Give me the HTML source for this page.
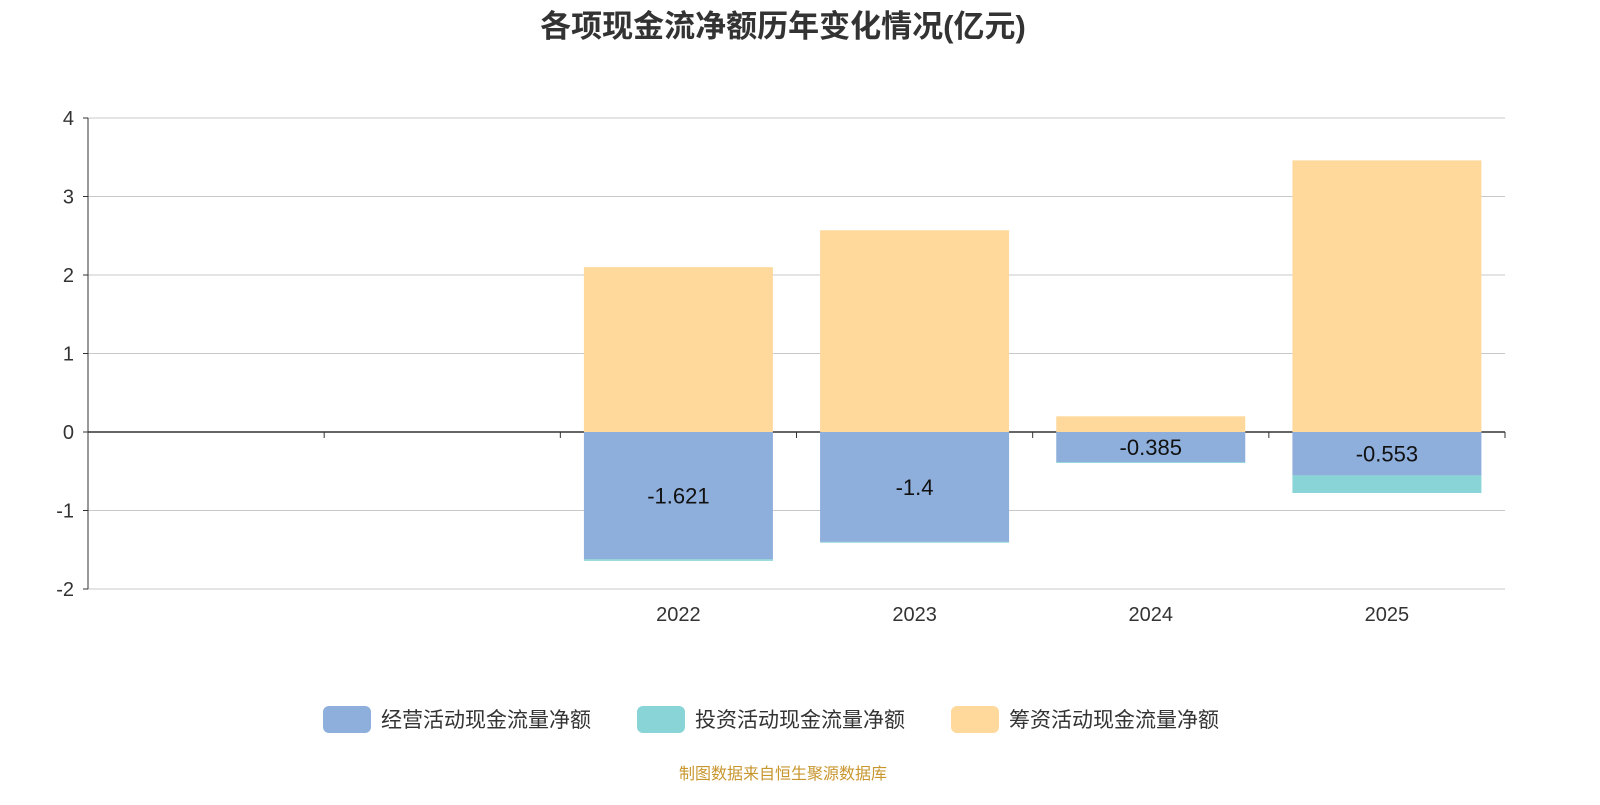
<!DOCTYPE html>
<html><head><meta charset="utf-8"><style>
body{margin:0;background:#fff;width:1600px;height:800px;overflow:hidden;font-family:"Liberation Sans","Noto Sans CJK SC",sans-serif}
</style></head><body>
<svg width="1600" height="800" id="chart">
<text x="783" y="37" text-anchor="middle" font-size="31" font-weight="bold" fill="#333">各项现金流净额历年变化情况(亿元)</text>
<g id="grid"></g><g id="bars"></g><g id="axes"></g><g id="legend"></g>
<text x="783" y="779" text-anchor="middle" font-size="16" fill="#c8962e">制图数据来自恒生聚源数据库</text>
</svg>
<script>
const categories=["","","2022","2023","2024","2025"];
const operating=[null,null,-1.621,-1.4,-0.385,-0.553];
const investing=[null,null,-0.02,-0.01,-0.01,-0.224];
const financing=[null,null,2.1,2.57,0.2,3.46];
const yTicks=[-2,-1,0,1,2,3,4];
const seriesNames=["经营活动现金流量净额","投资活动现金流量净额","筹资活动现金流量净额"];
const colors=["#8eaedb","#88d4d6","#fed99b"];
const ns="http://www.w3.org/2000/svg";
const X0=88,X1=1505,Ymin=-2,Ymax=4,YT=118,YB=589;
const y=v=>YB-(v-Ymin)/(Ymax-Ymin)*(YB-YT);
const slot=(X1-X0)/categories.length;
const xc=i=>X0+slot*(i+0.5);
function mk(tag,attrs,parent,txt){const e=document.createElementNS(ns,tag);for(const k in attrs)e.setAttribute(k,attrs[k]);if(txt!==undefined)e.textContent=txt;document.getElementById(parent).appendChild(e);return e;}
yTicks.forEach(t=>{
 const l=mk("line",{x1:X0,x2:X1,y1:y(t),y2:y(t),stroke:t===0?"#333":"#c8c8c8","stroke-width":t===0?1.5:1},"grid");
 
 
 const tk=mk("line",{x1:X0-5,x2:X0,y1:y(t),y2:y(t),stroke:"#333"},"axes");
 
 
 const tx=mk("text",{x:X0-14,y:y(t)+7,"text-anchor":"end","font-size":20,fill:"#333"},"axes",String(t));
 
 
});
const ya=mk("line",{x1:X0,x2:X0,y1:YT,y2:YB,stroke:"#333"},"axes");


for(let i=0;i<=categories.length;i++){
 const tk=mk("line",{x1:X0+slot*i,x2:X0+slot*i,y1:y(0),y2:y(0)+6,stroke:"#333"},"axes");
 
 
}
const bw=189;
categories.forEach((c,i)=>{
 if(c){const t=mk("text",{x:xc(i),y:621,"text-anchor":"middle","font-size":20,fill:"#333"},"axes",c);
 
 }
 if(operating[i]===null)return;
 let neg=0,pos=0;
 [[operating,0],[investing,1],[financing,2]].forEach(([arr,s])=>{
  const v=arr[i];let a,b;
  if(v<0){a=neg;b=neg+v;neg=b;}else{a=pos;b=pos+v;pos=b;}
  const r=mk("rect",{x:xc(i)-bw/2,y:Math.min(y(a),y(b)),width:bw,height:Math.abs(y(a)-y(b)),fill:colors[s]},"bars");
  
  
  if(s===0){const t=mk("text",{x:xc(i),y:(y(a)+y(b))/2+8,"text-anchor":"middle","font-size":22,fill:"#111"},"bars",String(v));
  
  }
 });
});
const lx=[323,637,951];
seriesNames.forEach((n,s)=>{
 const r=mk("rect",{x:lx[s],y:706,width:48,height:27,rx:6,fill:colors[s]},"legend");
 
 
 const t=mk("text",{x:lx[s]+58,y:727,"font-size":21,fill:"#333"},"legend",n);
 
 
});
</script>
</body></html>
